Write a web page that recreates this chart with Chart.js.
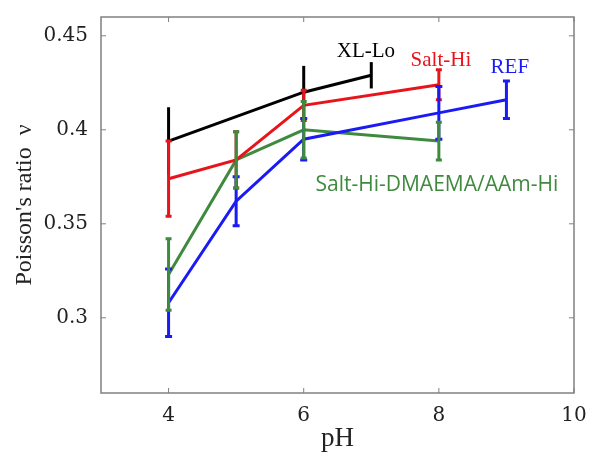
<!DOCTYPE html>
<html lang="en">
<head>
<meta charset="utf-8">
<script src="https://cdn.jsdelivr.net/npm/chart.js@4/dist/chart.umd.min.js"></script>
<style>
  html, body { margin: 0; padding: 0; background: #fff; }
  #wrap { width: 597px; height: 453px; }
</style>
</head>
<body>
<div id="wrap"><canvas id="chart"></canvas></div>
<script>
// values
const xlLoPH = [4, 6, 7];
const xlLoNu = [0.394, 0.420, 0.429];
const xlLoErr = [0.018, 0.014, 0.007];

const saltHiPH = [4, 5, 6, 8];
const saltHiNu = [0.374, 0.384, 0.413, 0.424];
const saltHiErr = [0.020, 0.015, 0.008, 0.008];

const refPH = [4, 5, 6, 8, 9];
const refNu = [0.308, 0.362, 0.395, 0.409, 0.416];
const refErr = [0.018, 0.013, 0.011, 0.014, 0.010];

const dmPH = [4, 5, 6, 8];
const dmNu = [0.323, 0.384, 0.400, 0.394];
const dmErr = [0.019, 0.015, 0.015, 0.010];

const xTicks = [4, 6, 8, 10];
const yTicks = [0.3, 0.35, 0.4, 0.45];

const BLACK = '#000000';
const RED = '#e8141b';
const BLUE = '#1a1af5';
const GREEN = '#3f8a3f';

function pts(xs, ys) {
  return xs.map((x, i) => ({ x: x, y: ys[i] }));
}

function series(label, xs, ys, errs, color, cap) {
  return {
    label: label,
    data: pts(xs, ys),
    errors: errs,
    cap: cap,
    borderColor: color,
    backgroundColor: color,
    borderWidth: 3,
    pointRadius: 0,
    tension: 0,
    fill: false
  };
}

// labels next to the lines, in data coordinates
const notes = [
  { text: 'XL-Lo', x: 6.92, y: 0.4416, color: BLACK, font: '21px "Liberation Serif", serif' },
  { text: 'Salt-Hi', x: 8.03, y: 0.4369, color: RED, font: '21px "Liberation Serif", serif' },
  { text: 'REF', x: 9.05, y: 0.4333, color: BLUE, font: '21px "Liberation Serif", serif' },
  { text: 'Salt-Hi-DMAEMA/AAm-Hi', x: 7.97, y: 0.3706, color: GREEN, font: '21px "Open Sans", sans-serif' }
];

const errorBars = {
  id: 'errorBars',
  afterDatasetsDraw(chart) {
    const ctx = chart.ctx;
    const xs = chart.scales.x, ys = chart.scales.y;
    chart.data.datasets.forEach(ds => {
      ctx.save();
      ctx.strokeStyle = ds.borderColor;
      ctx.lineWidth = 3;
      ds.data.forEach((p, i) => {
        const e = ds.errors[i];
        const px = xs.getPixelForValue(p.x);
        const top = ys.getPixelForValue(p.y + e);
        const bot = ys.getPixelForValue(p.y - e);
        ctx.beginPath();
        ctx.moveTo(px, top); ctx.lineTo(px, bot);
        if (ds.cap) {
          ctx.moveTo(px - ds.cap, top); ctx.lineTo(px + ds.cap, top);
          ctx.moveTo(px - ds.cap, bot); ctx.lineTo(px + ds.cap, bot);
        }
        ctx.stroke();
      });
      ctx.restore();
    });
  }
};

const frame = {
  id: 'frame',
  afterDraw(chart) {
    const ctx = chart.ctx;
    const a = chart.chartArea;
    const xs = chart.scales.x, ys = chart.scales.y;
    ctx.save();
    ctx.strokeStyle = '#808080';
    ctx.lineWidth = 1.5;
    ctx.strokeRect(a.left, a.top, a.right - a.left, a.bottom - a.top);
    ctx.lineWidth = 1;
    ctx.beginPath();
    xTicks.forEach(v => {
      const px = xs.getPixelForValue(v);
      ctx.moveTo(px, a.bottom); ctx.lineTo(px, a.bottom - 5);
      ctx.moveTo(px, a.top); ctx.lineTo(px, a.top + 5);
    });
    yTicks.forEach(v => {
      const py = ys.getPixelForValue(v);
      ctx.moveTo(a.left, py); ctx.lineTo(a.left + 5, py);
      ctx.moveTo(a.right, py); ctx.lineTo(a.right - 5, py);
    });
    ctx.stroke();
    ctx.textAlign = 'center';
    ctx.textBaseline = 'middle';
    notes.forEach(n => {
      ctx.fillStyle = n.color;
      ctx.font = n.font;
      ctx.fillText(n.text, xs.getPixelForValue(n.x), ys.getPixelForValue(n.y));
    });
    ctx.restore();
  }
};

const tickFont = { family: '"DejaVu Serif", serif', size: 20 };

new Chart(document.getElementById('chart'), {
  type: 'line',
  data: {
    datasets: [
      series('XL-Lo', xlLoPH, xlLoNu, xlLoErr, BLACK, 0),
      series('Salt-Hi', saltHiPH, saltHiNu, saltHiErr, RED, 3),
      series('REF', refPH, refNu, refErr, BLUE, 3.5),
      series('Salt-Hi-DMAEMA/AAm-Hi', dmPH, dmNu, dmErr, GREEN, 3)
    ]
  },
  options: {
    responsive: true,
    maintainAspectRatio: false,
    animation: false,
    layout: { padding: { top: 7, right: 23, left: 0, bottom: 0 } },
    plugins: { legend: { display: false }, tooltip: { enabled: false } },
    scales: {
      x: {
        type: 'linear',
        min: 3, max: 10,
        afterBuildTicks: s => { s.ticks = xTicks.map(v => ({ value: v })); },
        afterFit: s => { s.height = 60; },
        grid: { display: false },
        border: { display: false },
        ticks: { color: '#222', font: tickFont, padding: 3, maxRotation: 0 },
        title: { display: true, text: 'pH', color: '#222', font: { family: '"Liberation Serif", serif', size: 27 }, padding: { top: 0, bottom: -2 } }
      },
      y: {
        type: 'linear',
        min: 0.26, max: 0.46,
        afterBuildTicks: s => { s.ticks = yTicks.map(v => ({ value: v })); },
        afterFit: s => { s.width = 101; },
        grid: { display: false },
        border: { display: false },
        ticks: { color: '#222', font: tickFont, padding: 5, callback: v => String(v) },
        title: { display: true, text: 'Poisson\'s ratio  \u03bd', color: '#222', font: { family: '"Liberation Serif", serif', size: 24 }, padding: { top: 10, bottom: 0 } }
      }
    }
  },
  plugins: [errorBars, frame]
});
</script>
</body>
</html>
